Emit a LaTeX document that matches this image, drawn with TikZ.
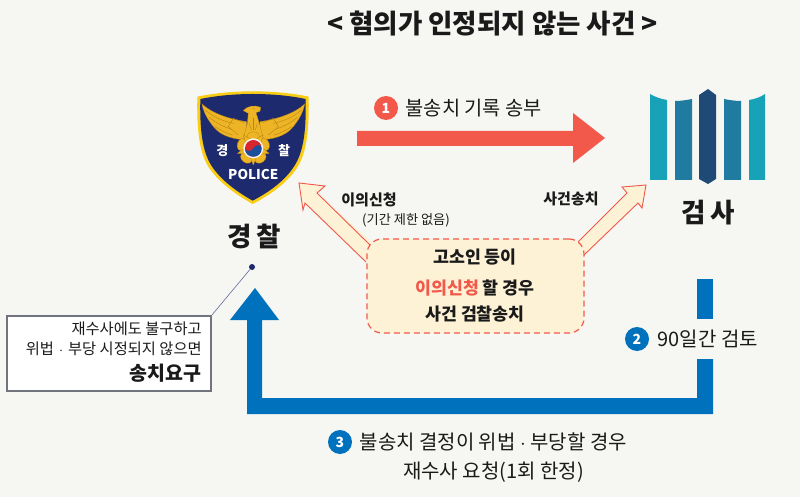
\documentclass[tikz,border=0pt]{standalone}
\usepackage{fontspec}
\usepackage{xcolor}
\setmainfont{Noto Sans CJK KR}
\usetikzlibrary{calc}
\usetikzlibrary{positioning}
\definecolor{paper}{HTML}{F6F6F2}
\definecolor{coral}{HTML}{F2594B}
\definecolor{policeblue}{HTML}{0071BC}
\definecolor{cream}{HTML}{FEF2D6}
\definecolor{ink}{HTML}{1A1A1A}
\definecolor{navy}{HTML}{1D2A6E}
\definecolor{gold}{HTML}{EDB526}
\definecolor{goldedge}{HTML}{B98412}
\definecolor{rim}{HTML}{F9CC16}
\definecolor{tealA}{HTML}{17A2B8}
\definecolor{tealB}{HTML}{1F7BA0}
\definecolor{tealC}{HTML}{1E4A75}
\definecolor{taegeukred}{HTML}{D8262C}
\definecolor{taegeukblue}{HTML}{1B4F9C}
\newcommand{\fs}[1]{\fontsize{#1}{#1}\selectfont}
\begin{document}
\begin{tikzpicture}[x=1pt,y=-1pt,semithick]
	\tikzstyle{num}=[circle, inner sep=0pt, minimum size=24pt, text=white, font=\fs{14}\bfseries]
	\tikzstyle{lab}=[inner sep=0pt, text=ink, align=center]
	\tikzstyle{pale}=[draw=coral, line width=0.9pt, line join=miter]
	\tikzstyle{flow}=[fill=policeblue, draw=none]
	\tikzstyle{bar}=[draw=none]
	\tikzstyle{feather}=[goldedge, line width=0.4pt]

	\fill[paper] (0,0) rectangle (800,497);
	\useasboundingbox (0,0) rectangle (800,497);

	\node[lab, font=\fs{26.5}\bfseries] (title) at (492.5,24) {< 혐의가 인정되지 않는 사건 >};

	\begin{scope}[shift={(180,80)},x=0.3333pt,y=-0.3333pt]
		\fill[rim] (52,50) .. controls (110,38) and (170,34) .. (218,34) .. controls (270,34) and (330,38) .. (386,50)
			.. controls (388,150) and (380,220) .. (350,265) .. controls (320,310) and (270,345) .. (218,372)
			.. controls (170,345) and (120,310) .. (88,265) .. controls (58,220) and (50,150) .. (52,50) -- cycle;
		\fill[navy] (61,57) .. controls (115,46) and (170,42) .. (218,42) .. controls (270,42) and (325,46) .. (377,57)
			.. controls (379,150) and (371,215) .. (343,258) .. controls (315,302) and (268,336) .. (218,362)
			.. controls (172,336) and (124,302) .. (95,258) .. controls (67,215) and (59,150) .. (61,57) -- cycle;
		\foreach \s in {1,-1}{
			\begin{scope}[shift={(220,0)},xscale=\s]
				\fill[gold, draw=goldedge, line width=0.3pt] (154,72) .. controls (125,100) and (70,118) .. (20,125)
					-- (20,180) .. controls (55,178) and (95,170) .. (118,142) .. controls (138,118) and (150,95) .. (154,72) -- cycle;
				\draw[feather] (145,90) .. controls (115,115) and (85,125) .. (60,130);
				\draw[feather] (132,112) .. controls (110,130) and (90,140) .. (65,148);
				\draw[feather] (115,140) .. controls (100,150) and (85,158) .. (62,165);
				\draw[feather] (28,128) -- (60,115) -- (75,140) -- (45,165);
			\end{scope}
		}
		\fill[gold, draw=goldedge, line width=0.3pt] (190,92) .. controls (200,78) and (225,74) .. (242,82) -- (240,94) -- (228,98)
			-- (238,130) -- (250,175) -- (190,175) -- (202,130) -- (205,100) -- cycle;
		\draw[feather] (220,115) -- (220,150);
		\draw[feather] (208,130) -- (214,150);
		\draw[feather] (232,130) -- (226,150);
		\fill[goldedge] (222,86) circle (2);
		\foreach \a in {-90,-18,54,126,198}{
			\fill[gold, draw=goldedge, line width=0.3pt] ($(220,205)+(\a-34:24)$) .. controls ($(220,205)+(\a-34:72)$) and ($(220,205)+(\a+34:72)$) .. ($(220,205)+(\a+34:24)$) -- cycle;
		}
		\foreach \a in {-54,18,90,162,234}{
			\fill[gold, draw=goldedge, line width=0.3pt] ($(220,205)+(\a-24:26)$) -- ($(220,205)+(\a:50)$) -- ($(220,205)+(\a+24:26)$) -- cycle;
		}
		\fill[paper] (220,205) circle (30);
		\fill[taegeukred] (220,205) circle (25);
		\fill[taegeukblue] (195,205) .. controls (195,222) and (207,230) .. (220,230) .. controls (233,230) and (245,222) .. (245,205)
			.. controls (245,193) and (225,192) .. (220,205) .. controls (215,216) and (197,215) .. (195,205) -- cycle;
		\node[inner sep=0pt, text=white, font=\fs{13}\bfseries] (gyeong) at (127,213) {경};
		\node[inner sep=0pt, text=white, font=\fs{13}\bfseries] (chal) at (312,213) {찰};
		\node[inner sep=0pt, text=white, font=\fs{13.5}\bfseries] (police) at (220,283) {POLICE};
	\end{scope}

	\fill[bar, tealA] (650,94) .. controls (655,97) and (661,99) .. (667,100) -- (667,180) -- (650,180) -- cycle;
	\fill[bar, tealB] (675,101) .. controls (681,101) and (687,100) .. (692,99) -- (692,180) -- (675,180) -- cycle;
	\fill[bar, tealC] (708,89) -- (716,95) -- (716,179) -- (708,184) -- (699,179) -- (699,95) -- cycle;
	\fill[bar, tealB] (724,99) .. controls (729,100) and (735,101) .. (741,101) -- (741,180) -- (724,180) -- cycle;
	\fill[bar, tealA] (749,100) .. controls (755,99) and (761,97) .. (765,94) -- (765,180) -- (749,180) -- cycle;

	\node[lab, font=\fs{26.5}\bfseries] (police label) at (254.5,236) {경\,찰};
	\node[lab, font=\fs{26.5}\bfseries] (prosecutor label) at (708,213) {검\,사};

	\fill[coral] (357,131) -- (573,131) -- (573,113) -- (605,138) -- (573,163) -- (573,146) -- (357,146) -- cycle;
	\node[num, fill=coral] (one) at (386,108) {1};
	\node[lab, font=\fs{19.8}, right=7pt of one] (send) {불송치 기록 송부};

	\fill[cream] (366,262) -- (305,203) -- (303,210) -- (299,183) -- (325,186) -- (317,193) -- (375,245) -- cycle;
	\draw[pale] (366,262) -- (305,203) -- (303,210) -- (299,183) -- (325,186) -- (317,193) -- (370,245);
	\fill[cream] (584,255) -- (638,203) -- (642,208) -- (646,185) -- (622,187) -- (627,193) -- (575,245) -- cycle;
	\draw[pale] (584,255) -- (638,203) -- (642,208) -- (646,185) -- (622,187) -- (627,193) -- (578,242);

	\node[lab, font=\fs{15}\bfseries] (appeal) at (369,200) {이의신청};
	\node[lab, font=\fs{13.2}] (nolimit) at (406,220) {(기간 제한 없음)};
	\node[lab, font=\fs{15}\bfseries] (transfer) at (571,199) {사건송치};

	\node[draw=coral, fill=cream, dash pattern=on 6pt off 4pt, line width=1.2pt, rounded corners=15pt, minimum width=217pt, minimum height=94pt, inner sep=0pt] (box) at (475.5,286) {};
	\node[lab, font=\fs{17.3}\bfseries] (box one) at (475,257.5) {고소인 등이};
	\node[lab, font=\fs{17.3}\bfseries] (box two) at (475,287.5) {\textcolor{coral}{이의신청} 할 경우};
	\node[lab, font=\fs{17.3}\bfseries] (box three) at (475,314) {사건 검찰송치};

	\fill[flow] (697,279) rectangle (713,319);
	\fill[flow] (697,359) -- (713,359) -- (713,414) -- (247,414) -- (247,320) -- (230,320) -- (255,288) -- (279,320) -- (262,320) -- (262,398) -- (697,398) -- cycle;

	\node[num, fill=policeblue] (two) at (637,339) {2};
	\node[lab, font=\fs{20}, right=8pt of two] (review) {90일간 검토};

	\node[num, fill=policeblue] (three) at (340,442) {3};
	\node[lab, font=\fs{20}, right=7pt of three] (unfair) {불송치 결정이 위법 $\cdot$ 부당할 경우};
	\node[lab, font=\fs{20}] (request) at (493.5,472) {재수사 요청(1회 한정)};

	\node[draw=gray!85!navy, fill=white, line width=1.2pt, minimum width=204pt, minimum height=75pt, inner sep=0pt] (note) at (109,353.5) {};
	\node[fill=navy, circle, inner sep=0pt, minimum size=6pt] (dot) at (252,267) {};
	\draw[navy!70, line width=0.6pt] (note.north east) -- (dot);
	\node[lab, font=\fs{15.3}, anchor=east] (note one) at (202,329) {재수사에도 불구하고};
	\node[lab, font=\fs{15.3}, anchor=east] (note two) at (202,349) {위법\,\,$\cdot$\,\,부당 시정되지 않으면};
	\node[lab, font=\fs{19.5}\bfseries, anchor=east] (note three) at (202,373) {송치요구};
\end{tikzpicture}
\end{document}
